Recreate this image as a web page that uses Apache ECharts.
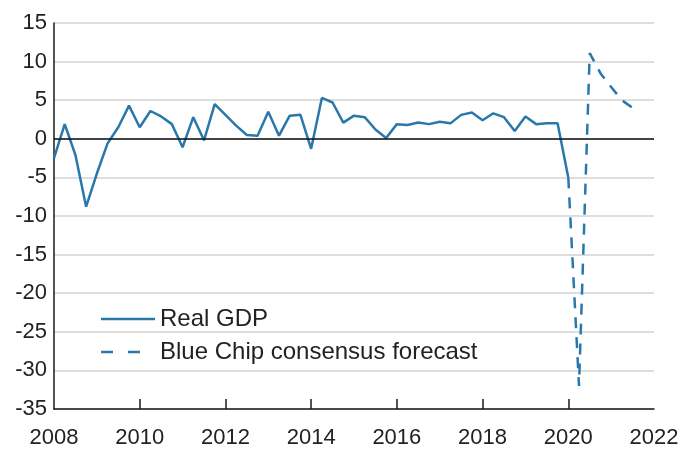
<!DOCTYPE html>
<html>
<head>
<meta charset="utf-8">
<script src="https://cdn.jsdelivr.net/npm/echarts@6/dist/echarts.min.js"></script>
<style>html,body{margin:0;padding:0;background:#fff}#c{width:696px;height:451px}</style>
</head>
<body>
<div id="c"></div>
<script>
// Quarterly data, annualized % change
const gdpStartYear = 2008; // first quarter: 2008 Q1
const realGDP = [
  -2.5, 1.9, -2.1, -8.8,
  -4.5, -0.6, 1.5, 4.3,
  1.5, 3.6, 2.9, 1.9,
  -1.1, 2.8, -0.2, 4.5,
  3.1, 1.7, 0.5, 0.4,
  3.5, 0.4, 3.0, 3.1,
  -1.3, 5.3, 4.7, 2.1,
  3.0, 2.8, 1.2, 0.1,
  1.9, 1.8, 2.1, 1.9,
  2.2, 2.0, 3.1, 3.4,
  2.4, 3.3, 2.8, 1.0,
  2.9, 1.9, 2.0, 2.0,
  -5.0
];
const forecastStartYear = 2020; // first quarter: 2020 Q1
const blueChip = [-5.0, -32.0, 11.1, 8.5, 6.7, 5.0, 4.0];
const seriesNames = ['Real GDP', 'Blue Chip consensus forecast'];
const yTicks = [-35, -30, -25, -20, -15, -10, -5, 0, 5, 10, 15];
const xTicks = [2008, 2010, 2012, 2014, 2016, 2018, 2020, 2022];
const xTickMarks = [2010, 2012, 2014, 2016, 2018, 2020];

const toPairs = (start, arr) => arr.map((v, i) => [start + i * 0.25, v]);

const blue = '#2a78ab';
const font = 'Liberation Sans, Arial, Helvetica, sans-serif';
const chart = echarts.init(document.getElementById('c'));
chart.setOption({
  animation: false,
  grid: { left: 54, right: 42, top: 23, bottom: 42 },
  xAxis: {
    type: 'value',
    min: xTicks[0], max: xTicks[xTicks.length - 1], interval: 2,
    axisLine: { show: true, onZero: false, lineStyle: { color: '#1a1a1a', width: 1.5 } },
    axisTick: { show: true, inside: true, length: 10, customValues: xTickMarks, lineStyle: { color: '#1a1a1a', width: 1.5 } },
    splitLine: { show: false },
    axisLabel: { color: '#222', fontSize: 22, fontFamily: font, margin: 18, showMinLabel: true, showMaxLabel: true,
      formatter: v => String(v) }
  },
  yAxis: {
    type: 'value',
    min: yTicks[0], max: yTicks[yTicks.length - 1], interval: 5,
    axisLine: { show: true, onZero: false, lineStyle: { color: '#1a1a1a', width: 1.5 } },
    axisTick: { show: false },
    splitLine: { show: true, lineStyle: { color: '#d3d3d3', width: 1.5 } },
    axisLabel: { color: '#222', fontSize: 22, fontFamily: font, margin: 7, formatter: v => String(v) }
  },
  legend: {
    orient: 'vertical',
    left: 96, top: 302,
    itemWidth: 54, itemHeight: 24, itemGap: 9,
    textStyle: { color: '#222', fontSize: 24, fontFamily: font, padding: [0, 0, 0, 0] },
    data: [
      { name: seriesNames[0], icon: 'path://M0,0 L54,0 L54,2.5 L0,2.5 Z', itemStyle: { color: blue } },
      { name: seriesNames[1], icon: 'path://M0,0 L12,0 L12,2.5 L0,2.5 Z M27,0 L39,0 L39,2.5 L27,2.5 Z M53.9,0 L54,0 L54,0.1 Z', itemStyle: { color: blue } }
    ],
    itemStyle: { borderWidth: 0 }
  },
  series: [
    {
      name: seriesNames[0], type: 'line', showSymbol: false, symbol: 'none',
      data: toPairs(gdpStartYear, realGDP),
      lineStyle: { color: blue, width: 2.5 }, itemStyle: { color: blue },
      markLine: {
        silent: true, symbol: 'none', label: { show: false },
        lineStyle: { color: '#111', width: 1.5, type: 'solid' },
        data: [{ yAxis: 0 }]
      },
      z: 3
    },
    {
      name: seriesNames[1], type: 'line', showSymbol: false, symbol: 'none',
      data: toPairs(forecastStartYear, blueChip),
      lineStyle: { color: blue, width: 2.5, type: [11, 9] }, itemStyle: { color: blue },
      z: 3
    }
  ]
});
</script>
</body>
</html>
